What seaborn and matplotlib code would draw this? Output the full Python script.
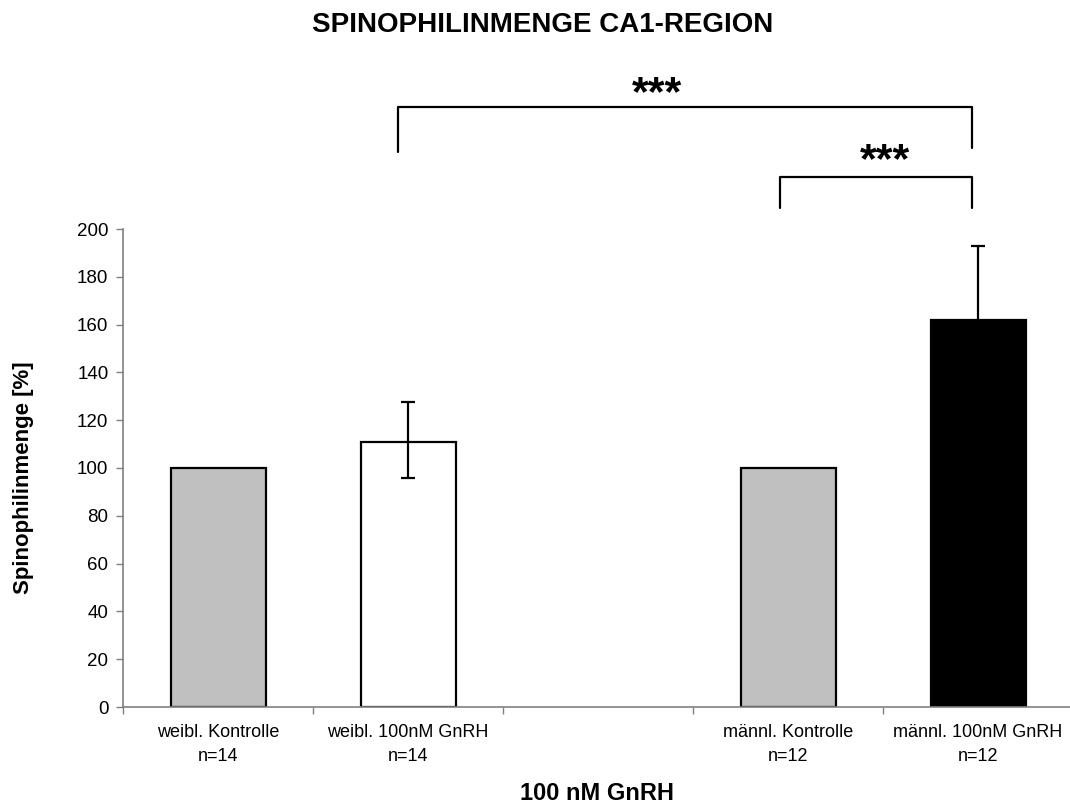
import numpy as np
import pandas as pd
import matplotlib
matplotlib.use("Agg")
import matplotlib.pyplot as plt
import seaborn as sns

# ---- data ----
order = ["weibl. Kontrolle\nn=14", "weibl. 100nM GnRH\nn=14", " ",
         "männl. Kontrolle\nn=12", "männl. 100nM GnRH\nn=12"]
groups = ["weibl. Kontrolle\nn=14", "weibl. 100nM GnRH\nn=14",
          "männl. Kontrolle\nn=12", "männl. 100nM GnRH\nn=12"]
values = [100, 111, 100, 162]
err_low = [0, 15, 0, 31]
err_high = [0, 16.5, 0, 31]
bar_colors = ["#C0C0C0", "#FFFFFF", "#C0C0C0", "#000000"]
yticks = [0, 20, 40, 60, 80, 100, 120, 140, 160, 180, 200]
title = "SPINOPHILINMENGE CA1-REGION"
xlabel = "100 nM GnRH"
ylabel = "Spinophilinmenge [%]"
sig_label = "***"

sns.set_style("white")
plt.rcParams["font.family"] = ["Liberation Sans", "DejaVu Sans"]
plt.rcParams["text.color"] = "black"
plt.rcParams["axes.labelcolor"] = "black"

df = pd.DataFrame({"group": groups, "value": values})

fig = plt.figure(figsize=(10.7, 8.07), dpi=100)
ax = fig.add_axes([123/1070, 1 - 707/807, 950/1070, (707 - 229)/807])

sns.barplot(data=df, x="group", y="value", order=order, hue="group",
            palette=dict(zip(groups, bar_colors)), legend=False, width=0.5,
            edgecolor="black", linewidth=1.6, saturation=1, ax=ax)

# error bars (only where present)
pos = [order.index(g) for g in groups]
for p, v, lo, hi in zip(pos, values, err_low, err_high):
    if lo or hi:
        ax.errorbar([p], [v], yerr=[[lo], [hi]], fmt="none", ecolor="black",
                    elinewidth=1.6, capsize=4.7, capthick=1.6, zorder=5)

ax.set_xlim(-0.5, len(order) - 0.5)
ax.set_ylim(0, 200)
ax.set_yticks(yticks)
ax.tick_params(axis="y", which="major", left=True, length=5, width=1,
               color="#808080", labelcolor="black", labelsize=13.5, pad=5.5)
ax.tick_params(axis="x", which="major", length=0, labelsize=13,
               labelcolor="black", pad=12)
for lab in ax.get_xticklabels():
    lab.set_linespacing(1.55)
ax.set_xticks(np.arange(len(order) + 1) - 0.5, minor=True)
ax.tick_params(axis="x", which="minor", bottom=True, length=5, width=1,
               color="#808080")

for s in ["top", "right"]:
    ax.spines[s].set_visible(False)
for s in ["left", "bottom"]:
    ax.spines[s].set_color("#808080")
    ax.spines[s].set_linewidth(1.2)

ax.set_xlabel("")
ax.set_ylabel("")
fig.text(597/1070, 1 - 793/807, xlabel, fontsize=17, fontweight="bold",
         ha="center", va="center")
fig.text(24/1070, 1 - 478/807, ylabel, fontsize=16, fontweight="bold",
         ha="center", va="center", rotation=90)
fig.suptitle(title, fontsize=20, fontweight="bold", x=0.507, y=0.985)

# significance brackets
def bracket(x1, x2, y, yl, yr, xs, ys):
    ax.plot([x1, x1, x2, x2], [yl, y, y, yr], color="black", lw=1.6,
            clip_on=False)
    ax.text(xs, ys, sig_label, ha="center", va="center",
            fontsize=31, fontweight="bold", clip_on=False)

bracket(0.947, 3.97, 251.2, 232.4, 234.0, 2.313, 256.5)
bracket(2.958, 3.97, 221.9, 208.9, 208.9, 3.508, 228.3)

fig.savefig("out.png", dpi=100)
